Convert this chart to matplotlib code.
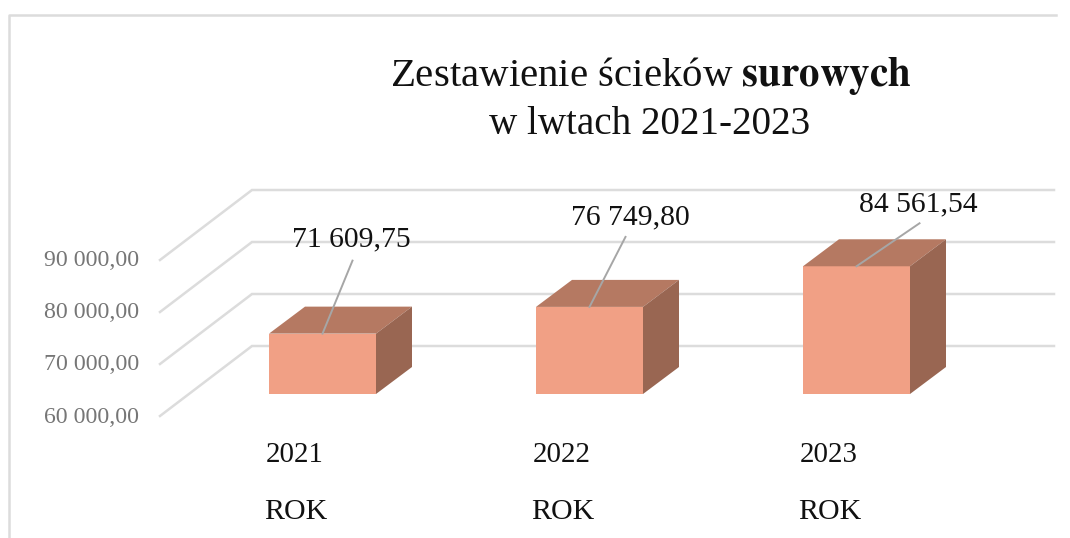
import matplotlib
matplotlib.use("Agg")
import matplotlib.pyplot as plt
from matplotlib.patches import Polygon

plt.rcParams['font.family'] = ['Liberation Serif', 'DejaVu Serif']

years = ['2021', '2022', '2023']
group_label = 'ROK'
values = [71609.75, 76749.80, 84561.54]
value_labels = ['71 609,75', '76 749,80', '84 561,54']
y_ticks = [60000, 70000, 80000, 90000]
y_tick_labels = ['60 000,00', '70 000,00', '80 000,00', '90 000,00']

W, H = 1070, 538
X0, Y0 = 322.5, 416        # pixel position of category 0 and of the 60 000 floor line
PX_X = 267.0
PX_Y = 52.0 / 10000

fig = plt.figure(figsize=(W / 100, H / 100), dpi=100, facecolor='white')
ax = fig.add_axes([0, 0, 1, 1])
ax.set_xlim(-X0 / PX_X, (W - X0) / PX_X)
ax.set_ylim(60000 - (H - Y0) / PX_Y, 60000 + Y0 / PX_Y)
ax.axis('off')

dx = lambda p: p / PX_X
dy = lambda p: p / PX_Y
TEXT = '#111111'
GRID = '#dcdcdc'

# chart frame
ax.plot([dx(8.5 - X0), dx(8.5 - X0), dx(1056 - X0)],
        [60000 - dy(H - Y0), 60000 + dy(Y0 - 15), 60000 + dy(Y0 - 15)],
        color=GRID, lw=1.8, zorder=1)

# side wall and back wall gridlines
for v, lab in zip(y_ticks, y_tick_labels):
    ax.plot([dx(160 - X0), dx(252 - X0), dx(1054 - X0)],
            [v, v + dy(70), v + dy(70)], color=GRID, lw=1.8,
            solid_joinstyle='miter', zorder=1)
    ax.text(dx(139 - X0), v - dy(1), lab, ha='right', va='center',
            fontsize=17.2, color='#767676')

# 3-D bars
half, bar_dx, bar_dy, plane = 53.5, 36, 27, 22
for i, val in enumerate(values):
    base = 60000 + dy(plane)
    top = val + dy(plane)
    l, r = i - dx(half), i + dx(half)
    ax.add_patch(Polygon([(l, base), (r, base), (r, top), (l, top)],
                         fc='#f1a085', ec='none', zorder=3))
    ax.add_patch(Polygon([(l, top), (r, top), (r + dx(bar_dx), top + dy(bar_dy)),
                          (l + dx(bar_dx), top + dy(bar_dy))],
                         fc='#b57962', ec='none', zorder=3))
    ax.add_patch(Polygon([(r, base), (r + dx(bar_dx), base + dy(bar_dy)),
                          (r + dx(bar_dx), top + dy(bar_dy)), (r, top)],
                         fc='#996652', ec='none', zorder=3))

# data labels with leader lines: (leader dx, leader dy, label dx, label dy) in px
offsets = [(30, 73, 29, 94), (36, 70, 41, 90), (63, 43, 62, 62)]
for i, (val, lab, o) in enumerate(zip(values, value_labels, offsets)):
    top = val + dy(plane)
    ax.plot([i, i + dx(o[0])], [top, top + dy(o[1])], color='#a6a6a6', lw=1.4, zorder=4)
    ax.text(i + dx(o[2]), top + dy(o[3]), lab, ha='center', va='center',
            fontsize=21.3, color=TEXT, zorder=5)

# category labels
for i, y in enumerate(years):
    ax.text(i + dx(-28), 60000 - dy(39), y, ha='center', va='center', fontsize=20.8, color=TEXT)
    ax.text(i + dx(-27), 60000 - dy(96), group_label, ha='center', va='center',
            fontsize=21.5, color=TEXT)

# title
ax.text((651 - X0) / PX_X, 60000 + dy(Y0 - 76), 'Zestawienie ścieków $\\mathbf{surowych}$',
        ha='center', va='center', fontsize=29.4, color=TEXT, math_fontfamily='stix')
ax.text((650 - X0) / PX_X, 60000 + dy(Y0 - 125), 'w lwtach 2021-2023', ha='center', va='center',
        fontsize=28.2, color=TEXT)

fig.savefig('out.png', dpi=100)
